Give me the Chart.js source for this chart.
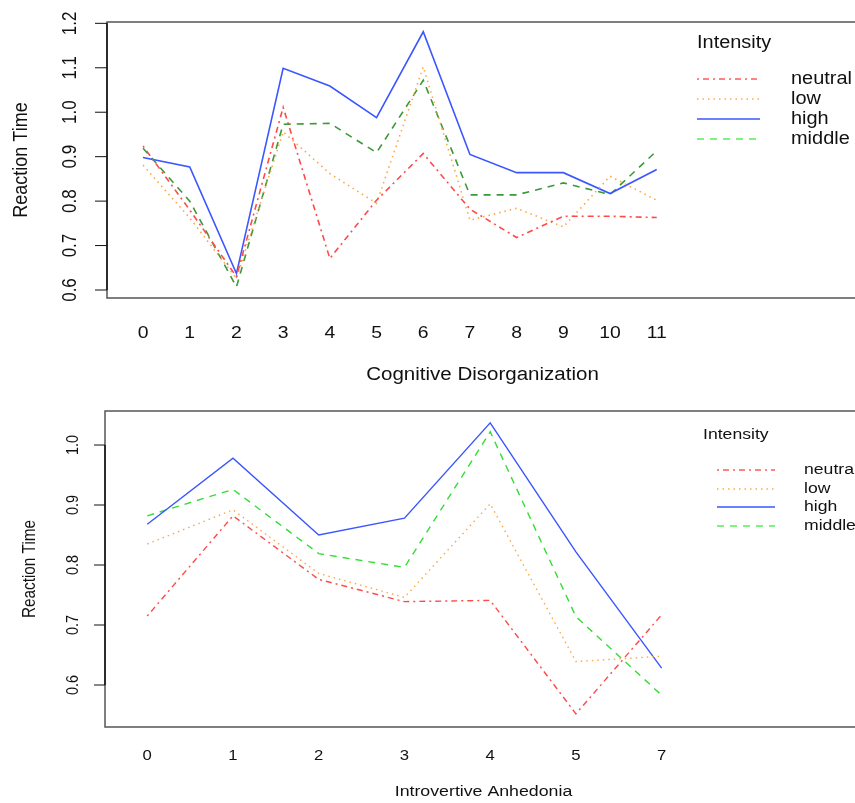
<!DOCTYPE html>
<html><head><meta charset="utf-8">
<script src="https://cdn.jsdelivr.net/npm/chart.js@4.4.1/dist/chart.umd.min.js"></script>
<style>
html,body{margin:0;padding:0;background:#fff;overflow:hidden;width:855px;height:803px;position:relative}
canvas{position:absolute;left:0}
#c1{top:0}
#c2{top:400px}
</style></head><body>
<canvas id="c1" width="870" height="400"></canvas>
<canvas id="c2" width="870" height="403"></canvas>
<script>
// ---------- data ----------
const seriesNames = ["neutral", "low", "high", "middle"];

const cdCategories = ["0","1","2","3","4","5","6","7","8","9","10","11"];
const cdNeutral = [0.924, 0.780, 0.630, 1.011, 0.671, 0.802, 0.907, 0.782, 0.718, 0.766, 0.766, 0.763];
const cdLow     = [0.881, 0.762, 0.626, 0.956, 0.862, 0.795, 1.102, 0.757, 0.784, 0.742, 0.856, 0.802];
const cdHigh    = [0.898, 0.877, 0.637, 1.099, 1.059, 0.988, 1.181, 0.905, 0.864, 0.864, 0.817, 0.871];
const cdMiddle  = [0.919, 0.800, 0.607, 0.973, 0.975, 0.909, 1.072, 0.814, 0.814, 0.841, 0.815, 0.913];
const cdYTicks  = [0.6, 0.7, 0.8, 0.9, 1.0, 1.1, 1.2];
const cdYTickLabels = ["0.6","0.7","0.8","0.9","1.0","1.1","1.2"];

const iaCategories = ["0","1","2","3","4","5","7"];
const iaNeutral = [0.715, 0.882, 0.776, 0.739, 0.741, 0.552, 0.717];
const iaLow     = [0.835, 0.892, 0.786, 0.746, 0.902, 0.639, 0.648];
const iaHigh    = [0.868, 0.978, 0.850, 0.878, 1.037, 0.822, 0.628];
const iaMiddle  = [0.882, 0.926, 0.819, 0.796, 1.022, 0.714, 0.583];
const iaYTicks  = [0.6, 0.7, 0.8, 0.9, 1.0];
const iaYTickLabels = ["0.6","0.7","0.8","0.9","1.0"];

// ---------- styles ----------
const FONT = '"Liberation Sans", Arial, Helvetica, sans-serif';
const styleTop = {
  colors: ["#ff4a4a", "#ffa640", "#3a56ff", "#3a993a"],
  legendColors: ["#ff5a5a", "#ffaa44", "#3a56ff", "#55ee55"],
  dashes: [[2,4,6,4], [1.5,4], [], [7,6]],
  width: 1.6
};
const styleBot = {
  colors: ["#ff4a4a", "#ffa640", "#3a56ff", "#33dd33"],
  legendColors: ["#ff5a5a", "#ffaa44", "#3a56ff", "#55ee55"],
  dashes: [[2,4,6,4], [1.5,4], [], [7,6]],
  width: 1.4
};

function txt(ctx, s, x, y, size, hs, align, rot) {
  ctx.save();
  ctx.translate(x, y);
  ctx.scale(hs, 1);
  if (rot) ctx.rotate(-Math.PI / 2);
  ctx.font = size + 'px ' + FONT;
  ctx.textAlign = align;
  ctx.textBaseline = 'middle';
  ctx.fillStyle = '#111';
  ctx.fillText(s, 0, 0);
  ctx.restore();
}

function rPlot(cfg) {
  return {
    id: 'rplot',
    afterDraw(chart) {
      const ctx = chart.ctx;
      const a = chart.chartArea;
      const xs = chart.scales.x, ys = chart.scales.y;
      ctx.save();
      // box
      ctx.strokeStyle = '#555';
      ctx.lineWidth = 1.5;
      ctx.setLineDash([]);
      ctx.strokeRect(a.left, a.top, a.right - a.left, a.bottom - a.top);
      // y axis line + ticks
      const y0 = ys.getPixelForValue(cfg.yTicks[0]);
      const y1 = ys.getPixelForValue(cfg.yTicks[cfg.yTicks.length - 1]);
      ctx.strokeStyle = '#111';
      ctx.lineWidth = 1.5;
      ctx.beginPath(); ctx.moveTo(a.left, y0); ctx.lineTo(a.left, y1); ctx.stroke();
      ctx.lineWidth = 1;
      cfg.yTicks.forEach((v, i) => {
        const py = ys.getPixelForValue(v);
        ctx.beginPath(); ctx.moveTo(a.left - cfg.tickLen, py); ctx.lineTo(a.left, py); ctx.stroke();
        txt(ctx, cfg.yTickLabels[i], cfg.yLabelX, py, cfg.tickSize, cfg.hs, 'center', true);
      });
      // x labels
      cfg.categories.forEach((c, i) => {
        txt(ctx, c, xs.getPixelForValue(i), cfg.xLabelY, cfg.tickSize, cfg.hs, 'center', false);
      });
      // titles
      txt(ctx, cfg.xTitle, (a.left + a.right) / 2, cfg.xTitleY, cfg.titleSize, cfg.hs, 'center', false);
      txt(ctx, cfg.yTitle, cfg.yTitleX, (a.top + a.bottom) / 2, cfg.titleSize, cfg.hs, 'center', true);
      // legend
      const L = cfg.legend;
      txt(ctx, L.title, L.titleX, L.titleY, cfg.legendSize, cfg.hs, 'left', false);
      seriesNames.forEach((n, i) => {
        const ly = L.ys[i];
        ctx.strokeStyle = cfg.style.legendColors[i];
        ctx.lineWidth = cfg.style.width;
        ctx.setLineDash(cfg.style.dashes[i]);
        ctx.beginPath(); ctx.moveTo(L.x0, ly); ctx.lineTo(L.x1, ly); ctx.stroke();
        ctx.setLineDash([]);
        txt(ctx, n, L.labelX, ly, cfg.legendSize, cfg.hs, 'left', false);
      });
      ctx.restore();
    }
  };
}

function makeChart(id, series, cfg) {
  const datasets = series.map((vals, i) => ({
    label: seriesNames[i],
    data: vals.map((v, k) => ({ x: k, y: v })),
    borderColor: cfg.style.colors[i],
    borderWidth: cfg.style.width,
    borderDash: cfg.style.dashes[i],
    pointRadius: 0,
    fill: false,
    tension: 0
  }));
  return new Chart(document.getElementById(id), {
    type: 'line',
    data: { datasets },
    options: {
      responsive: false,
      animation: false,
      devicePixelRatio: 1,
      layout: { padding: cfg.padding },
      plugins: { legend: { display: false }, tooltip: { enabled: false } },
      scales: {
        x: { type: 'linear', display: false, min: cfg.xMin, max: cfg.xMax },
        y: { type: 'linear', display: false, min: cfg.yMin, max: cfg.yMax }
      }
    },
    plugins: [rPlot(cfg)]
  });
}

makeChart('c1', [cdNeutral, cdLow, cdHigh, cdMiddle], {
  style: styleTop,
  categories: cdCategories,
  yTicks: cdYTicks, yTickLabels: cdYTickLabels,
  padding: { left: 107, top: 22, right: 12, bottom: 102 },
  xMin: -0.772, xMax: 15.31, yMin: 0.582, yMax: 1.203,
  hs: 1.14, tickSize: 17, titleSize: 18, legendSize: 17.5,
  tickLen: 12, yLabelX: 71, xLabelY: 333, xTitle: 'Cognitive Disorganization', xTitleY: 375,
  yTitle: 'Reaction Time', yTitleX: 21,
  legend: { title: 'Intensity', titleX: 697, titleY: 43, x0: 697, x1: 760, labelX: 791, ys: [79, 99, 119, 139] }
});

makeChart('c2', [iaNeutral, iaLow, iaHigh, iaMiddle], {
  style: styleBot,
  categories: iaCategories,
  yTicks: iaYTicks, yTickLabels: iaYTickLabels,
  padding: { left: 105, top: 11, right: 8, bottom: 76 },
  xMin: -0.493, xMax: 8.337, yMin: 0.53, yMax: 1.0567,
  hs: 1.16, tickSize: 14.4, titleSize: 15.3, legendSize: 15.2,
  tickLen: 11, yLabelX: 73, xLabelY: 356, xTitle: 'Introvertive Anhedonia', xTitleY: 392,
  yTitle: 'Reaction Time', yTitleX: 30,
  legend: { title: 'Intensity', titleX: 703, titleY: 35, x0: 717, x1: 775, labelX: 804, ys: [70, 89, 107, 126] }
});
</script>
</body></html>
